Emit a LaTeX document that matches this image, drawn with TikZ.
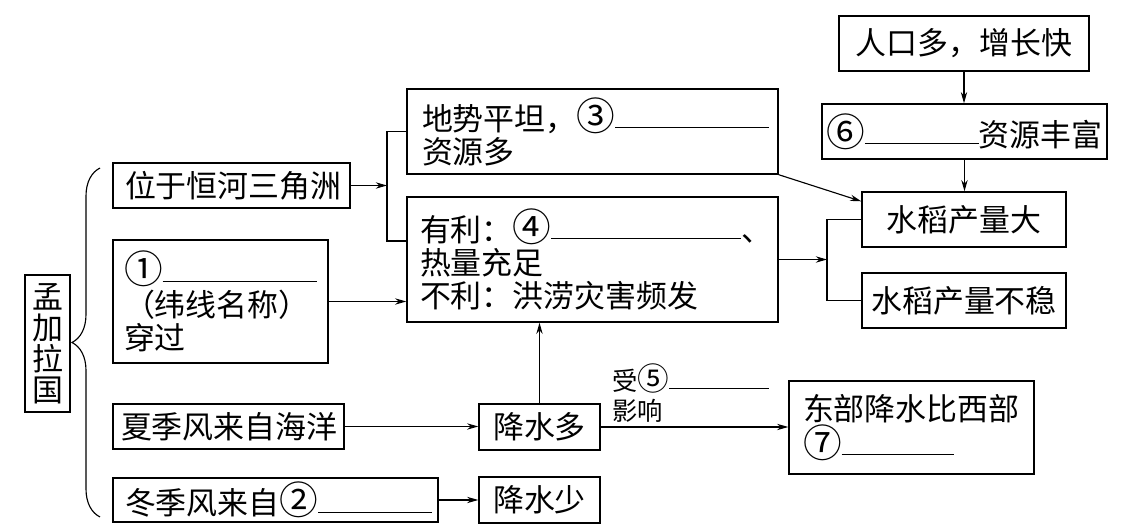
\documentclass[tikz,border=0pt]{standalone}
\usepackage{fontspec}
\newfontfamily\cjk{Noto Sans CJK SC}
\usetikzlibrary{arrows.meta,decorations.pathreplacing}
\newcommand{\answerline}[1]{\rule[1.5pt]{#1}{0.7pt}}
\newcommand{\bignum}[1]{\scalebox{1.25}{#1}}

\begin{document}
\begin{tikzpicture}[
    box/.style={draw, line width=1pt, inner sep=0pt, align=center,
        font=\cjk\fontsize{22}{23.5}\selectfont},
    lbox/.style={box, align=left},
    arr/.style={line width=0.8pt, -{Stealth[length=8pt,width=4.5pt]}}
]
\useasboundingbox (0,0) rectangle (28.275,13.25);

% left column
\node (country) at (1.1875,4.6625) [box, minimum width=1.125cm, minimum height=3.425cm, font=\cjk\fontsize{22}{22}\selectfont] {孟\\加\\拉\\国};
\node (loc) at (5.7875,8.6125) [lbox, minimum height=1.125cm, inner xsep=0.3cm, text width=5.325cm] {位于恒河三角洲};
\node (lat) at (5.5125,5.7125) [lbox, minimum height=3.075cm, inner xsep=0.275cm, text width=4.825cm] {\bignum{①}\answerline{3.85cm}\\（纬线名称）\\穿过};
\node (summer) at (5.7125,2.5875) [lbox, minimum height=1.125cm, inner xsep=0.2cm, text width=5.375cm] {夏季风来自海洋};
\node (winter) at (6.8875,0.75) [lbox, minimum height=1.1cm, inner xsep=0.3cm, text width=7.525cm] {冬季风来自\bignum{②}\answerline{2.85cm}};

% middle column
\node (terrain) at (14.8125,9.9625) [lbox, minimum height=2.125cm, inner xsep=0.375cm, text width=8.525cm] {地势平坦，\bignum{③}\answerline{3.85cm}\\资源多};
\node (climate) at (14.8125,6.7625) [lbox, minimum height=3.125cm, inner xsep=0.325cm, text width=8.625cm] {有利：\bignum{④}\answerline{4.75cm}、\\热量充足\\不利：洪涝灾害频发};
\node (rainmore) at (13.4875,2.575) [box, minimum width=3.025cm, minimum height=1.15cm] {降水多};
\node (rainless) at (13.4875,0.75) [box, minimum width=3.025cm, minimum height=1.15cm] {降水少};
\node (infl) at (15.3,3.425) [anchor=west, inner sep=0pt, align=left, font=\cjk\fontsize{18}{21}\selectfont] {受\bignum{⑤}\answerline{2.5cm}\\影响};
\node (east) at (22.7875,2.5625) [lbox, minimum height=2.325cm, inner xsep=0.35cm, text width=5.425cm] {东部降水比西部\\\bignum{⑦}\answerline{2.8cm}};

% right column
\node (pop) at (24.1,12.1625) [box, minimum width=6.25cm, minimum height=1.375cm] {人口多，增长快};
\node (res) at (24.1125,9.9625) [box, minimum width=7.125cm, minimum height=1.375cm] {\bignum{⑥}\answerline{2.85cm}资源丰富};
\node (big) at (24.1,7.7625) [box, minimum width=5.1cm, minimum height=1.375cm] {水稻产量大};
\node (unstable) at (24.1,5.7375) [box, minimum width=5.1cm, minimum height=1.375cm] {水稻产量不稳};

% brace
\draw[line width=0.8pt, decorate, decoration={brace, amplitude=0.7cm}] (2.5,0.325) -- (2.5,9.05);

% forks
\coordinate (forkA) at (9.675,7.225);
\coordinate (forkB) at (20.675,5.7375);
\draw[line width=0.8pt] (terrain.west) -| (forkA) -- (forkA -| climate.west);
\draw[line width=0.8pt] (big.west) -| (forkB) -- (unstable.west);

% arrows
\draw[arr] (loc.east) -- (loc.east -| forkA);
\draw[arr] (lat.east) -- (lat.east -| climate.west);
\draw[arr] (summer.east) -- (summer.east -| rainmore.west);
\draw[arr] (winter.east) -- (winter.east -| rainless.west);
\draw[arr] (rainmore.north) -- (rainmore.north |- climate.south);
\draw[arr] (rainmore.east) -- (rainmore.east -| east.west);
\draw[arr] (climate.east) -- (climate.east -| forkB);
\draw[arr] (terrain.south east) -- ([yshift=-0.25cm]big.north west);
\draw[arr] (pop.south) -- (pop.south |- res.north);
\draw[arr] (res.south) -- (res.south |- big.north);
\end{tikzpicture}
\end{document}
